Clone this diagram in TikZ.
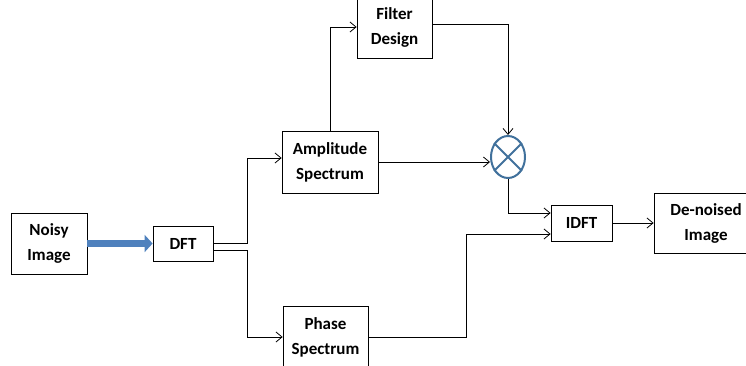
\documentclass[tikz,border=0pt]{standalone}
\usepackage{fontspec}
\setmainfont{Carlito}
\usetikzlibrary{arrows.meta,shapes.geometric}
\definecolor{fatblue}{HTML}{4F81BD}
\definecolor{ringblue}{HTML}{41719C}
\begin{document}
\begin{tikzpicture}[
    x=1pt, y=-1pt,
    block/.style={rectangle, draw, line width=0.8pt, align=center,
                  font=\bfseries\fontsize{17}{25}\selectfont, inner sep=0pt},
    mult/.style={ellipse, draw=ringblue, line width=2pt,
                 minimum width=34pt, minimum height=42pt, inner sep=0pt},
    conn/.style={-{Straight Barb[length=6pt,width=10pt]}, line width=0.8pt},
    fat/.style={-{Triangle[length=8pt,width=17pt]}, line width=7pt, fatblue}
]
    \useasboundingbox (0,0) rectangle (746,366);

    \node[block, minimum width=76pt, minimum height=61pt] (noisy) at (49,243.5) {Noisy\\Image};
    \node[block, minimum width=60pt, minimum height=35pt] (dft) at (183,243.5) {DFT};
    \node[block, minimum width=96pt, minimum height=62pt] (amp) at (330,162) {Amplitude\\Spectrum};
    \node[block, minimum width=75pt, minimum height=62pt] (filter) at (394.5,27) {Filter\\Design};
    \node[block, minimum width=85pt, minimum height=62pt] (phase) at (325.5,337) {Phase\\Spectrum};
    \node[mult] (prod) at (508,157) {};
    \draw[ringblue, line width=2pt] (prod.45) -- (prod.225) (prod.135) -- (prod.315);
    \node[block, minimum width=61pt, minimum height=36pt] (idft) at (581.5,223) {IDFT};
    \node[block, minimum width=104pt, minimum height=60pt] (clean) at (706,223) {De-noised\\Image};

    \draw[fat] (noisy.east) -- (dft.west);
    \draw[conn] (dft.east) -- ++(34,0) |- ([yshift=4pt]amp.west);
    \draw[conn] ([yshift=-7pt]dft.east) -- ++(34,0) |- (phase.west);
    \draw[conn] (amp.north) |- (filter.west);
    \draw[conn] ([yshift=3pt]filter.east) -| (prod.north);
    \draw[conn] (amp.east) -- (amp.east -| prod.west);
    \draw[conn] (prod.south) |- ([yshift=10pt]idft.west);
    \draw[conn] (phase.east) -- ++(98,0) |- ([yshift=-11pt]idft.west);
    \draw[conn] (idft.east) -- (clean.west);
\end{tikzpicture}
\end{document}
